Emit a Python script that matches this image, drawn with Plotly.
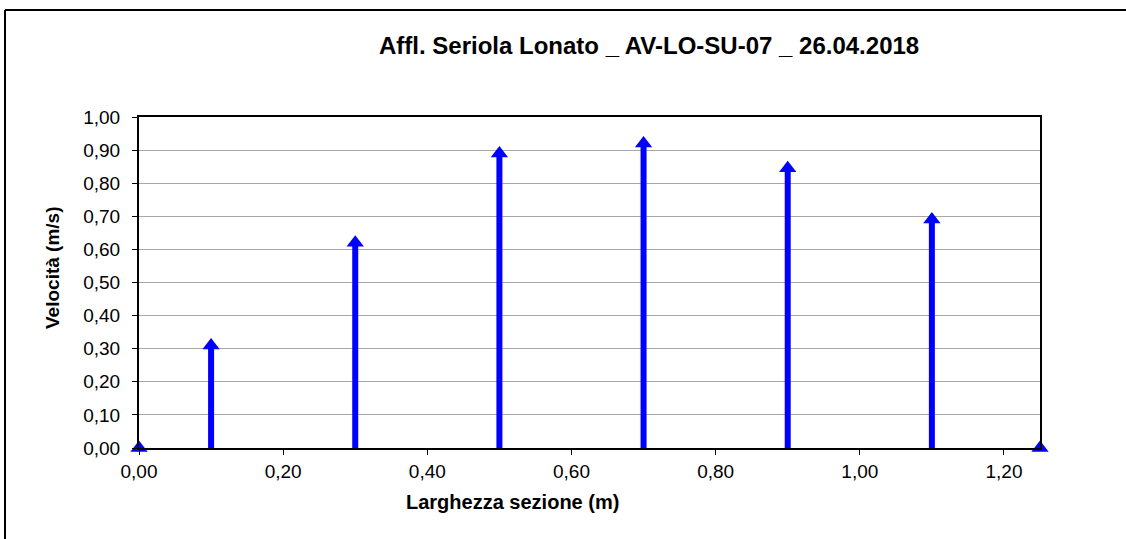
import plotly.graph_objects as go

larghezza = [0.0, 0.10, 0.30, 0.50, 0.70, 0.90, 1.10, 1.25]
velocita = [0.0, 0.31, 0.62, 0.89, 0.92, 0.845, 0.69, 0.0]
y_ticks = [i / 10 for i in range(11)]
x_ticks = [0.0, 0.2, 0.4, 0.6, 0.8, 1.0, 1.2]

W, H = 1126, 539
L, R, T, B = 139, 1040, 117, 448

fig = go.Figure()
blue = "#0000ff"
for x, v in zip(larghezza, velocita):
    if v > 0:
        fig.add_trace(go.Scatter(x=[x, x], y=[0, v], mode="lines",
                                 line=dict(color=blue, width=6), showlegend=False,
                                 hoverinfo="skip", cliponaxis=False))
fig.add_trace(go.Scatter(x=larghezza, y=velocita, mode="markers",
                         marker=dict(symbol="triangle-up", size=15, color=blue),
                         showlegend=False, cliponaxis=False))

pw, ph = R - L, B - T
def px(xp):
    return (xp - L) / pw
def py(yp):
    return (B - yp) / ph

fig.update_layout(
    width=W, height=H,
    margin=dict(l=L, r=W - R, t=T, b=H - B),
    paper_bgcolor="white", plot_bgcolor="white",
    separators=",.",
    font=dict(family="Liberation Sans, Arial", size=18, color="black"),
    showlegend=False,
    xaxis=dict(range=[0, 1.25], tickvals=x_ticks, tickformat=".2f",
               showgrid=False, zeroline=False, showline=True, linecolor="black",
               linewidth=2, mirror=True, ticks="outside", ticklen=5,
               ticklabelstandoff=0,
               tickcolor="black", tickfont=dict(size=19)),
    yaxis=dict(range=[0, 1.0], tickvals=y_ticks, tickformat=".2f",
               showgrid=True, gridcolor="#a8a8a8", gridwidth=1.3,
               zeroline=False, showline=True, linecolor="black",
               linewidth=2, mirror=True, ticks="outside", ticklen=5,
               ticklabelstandoff=8,
               tickcolor="black", tickfont=dict(size=19)),
    shapes=[
        dict(type="line", xref="paper", yref="paper",
             x0=px(5), x1=px(1130), y0=py(10), y1=py(10),
             line=dict(color="black", width=2), layer="below"),
        dict(type="line", xref="paper", yref="paper",
             x0=px(5), x1=px(5), y0=py(10), y1=py(545),
             line=dict(color="black", width=2), layer="below"),
    ],
    annotations=[
        dict(text="<b>Affl. Seriola Lonato _ AV-LO-SU-07 _ 26.04.2018</b>",
             xref="paper", yref="paper", x=px(649), y=py(46),
             xanchor="center", yanchor="middle", showarrow=False,
             font=dict(size=24)),
        dict(text="<b>Larghezza sezione (m)</b>",
             xref="paper", yref="paper", x=px(512), y=py(502),
             xanchor="center", yanchor="middle", showarrow=False,
             font=dict(size=20)),
        dict(text="<b>Velocità (m/s)</b>", textangle=-90,
             xref="paper", yref="paper", x=px(52), y=py(268),
             xanchor="center", yanchor="middle", showarrow=False,
             font=dict(size=19)),
    ],
)

fig.write_html("out.html", config={"displayModeBar": False},
               post_script="document.body.style.margin='0';document.body.style.padding='0';")
